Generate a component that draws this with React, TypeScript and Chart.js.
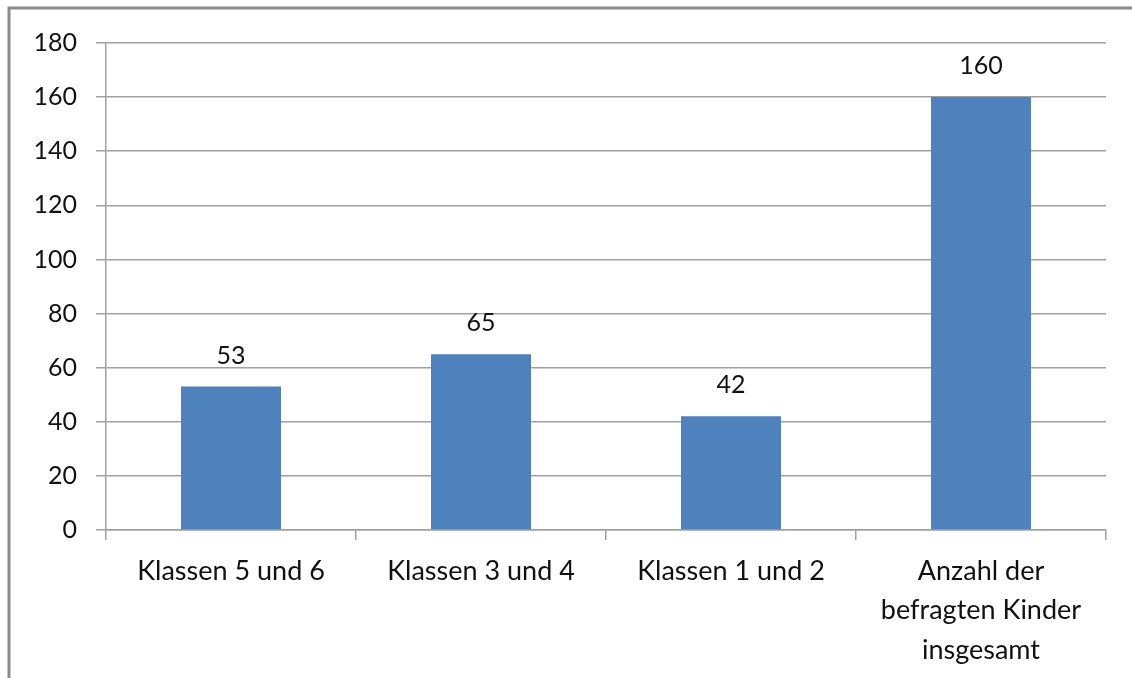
import React, { useEffect, useRef } from "react";
import { Chart, registerables } from "chart.js";

Chart.register(...registerables);

const categories: (string | string[])[] = [
  "Klassen 5 und 6",
  "Klassen 3 und 4",
  "Klassen 1 und 2",
  ["Anzahl der", "befragten Kinder", "insgesamt"],
];
const values: number[] = [53, 65, 42, 160];
const yMax = 180;
const yStep = 20;

const FONT = "Lato, 'Noto Sans', sans-serif";

const framePlugin = {
  id: "frame",
  beforeDraw(chart: any) {
    const ctx = chart.ctx;
    ctx.save();
    ctx.fillStyle = "#ffffff";
    ctx.fillRect(0, 0, chart.width, chart.height);
    ctx.strokeStyle = "#8c8c8c";
    ctx.lineWidth = 3;
    ctx.beginPath();
    ctx.moveTo(9, chart.height + 5);
    ctx.lineTo(9, 8);
    ctx.lineTo(chart.width + 5, 8);
    ctx.stroke();
    ctx.restore();
  },
};

const labelPlugin = {
  id: "barLabels",
  afterDatasetsDraw(chart: any) {
    const ctx = chart.ctx;
    const meta = chart.getDatasetMeta(0);
    ctx.save();
    ctx.font = `25px ${FONT}`;
    ctx.fillStyle = "#111111";
    ctx.textAlign = "center";
    ctx.textBaseline = "middle";
    meta.data.forEach((bar: any, i: number) => {
      ctx.fillText(String(values[i]), bar.x, bar.y - 31);
    });
    ctx.restore();
  },
};

export default function App() {
  const ref = useRef<HTMLCanvasElement | null>(null);
  useEffect(() => {
    if (!ref.current) return;
    const chart = new Chart(ref.current, {
      type: "bar",
      data: {
        labels: categories,
        datasets: [
          {
            data: values,
            backgroundColor: "#4F81BD",
            borderWidth: 0,
            barPercentage: 0.4,
            categoryPercentage: 1,
          },
        ],
      },
      options: {
        animation: false,
        responsive: false,
        devicePixelRatio: 1,
        layout: { padding: { left: 0, top: 43, right: 26, bottom: 0 } },
        plugins: { legend: { display: false }, tooltip: { enabled: false } },
        scales: {
          x: {
            grid: {
              drawOnChartArea: false,
              drawTicks: true,
              tickLength: 10,
              color: "#a0a0a0",
              offset: true,
              lineWidth: 1.5,
            },
            border: { color: "#a0a0a0", width: 1.5 },
            ticks: {
              color: "#111111",
              font: { family: FONT, size: 27, lineHeight: 1.45 },
              padding: 12,
              maxRotation: 0,
              autoSkip: false,
            },
            afterFit: (scale: any) => {
              scale.height = 148;
            },
          },
          y: {
            min: 0,
            max: yMax,
            grid: { color: "#a0a0a0", tickLength: 10, lineWidth: 1.5 },
            border: { color: "#a0a0a0", width: 1.5 },
            ticks: {
              stepSize: yStep,
              color: "#111111",
              font: { family: FONT, size: 25 },
              padding: 19,
            },
            afterFit: (scale: any) => {
              scale.width = 106;
            },
          },
        },
      },
      plugins: [framePlugin, labelPlugin],
    });
    return () => chart.destroy();
  }, []);
  return (
    <div style={{ position: "absolute", left: 0, top: 0 }}>
      <canvas ref={ref} width={1132} height={678} style={{ display: "block" }} />
    </div>
  );
}
